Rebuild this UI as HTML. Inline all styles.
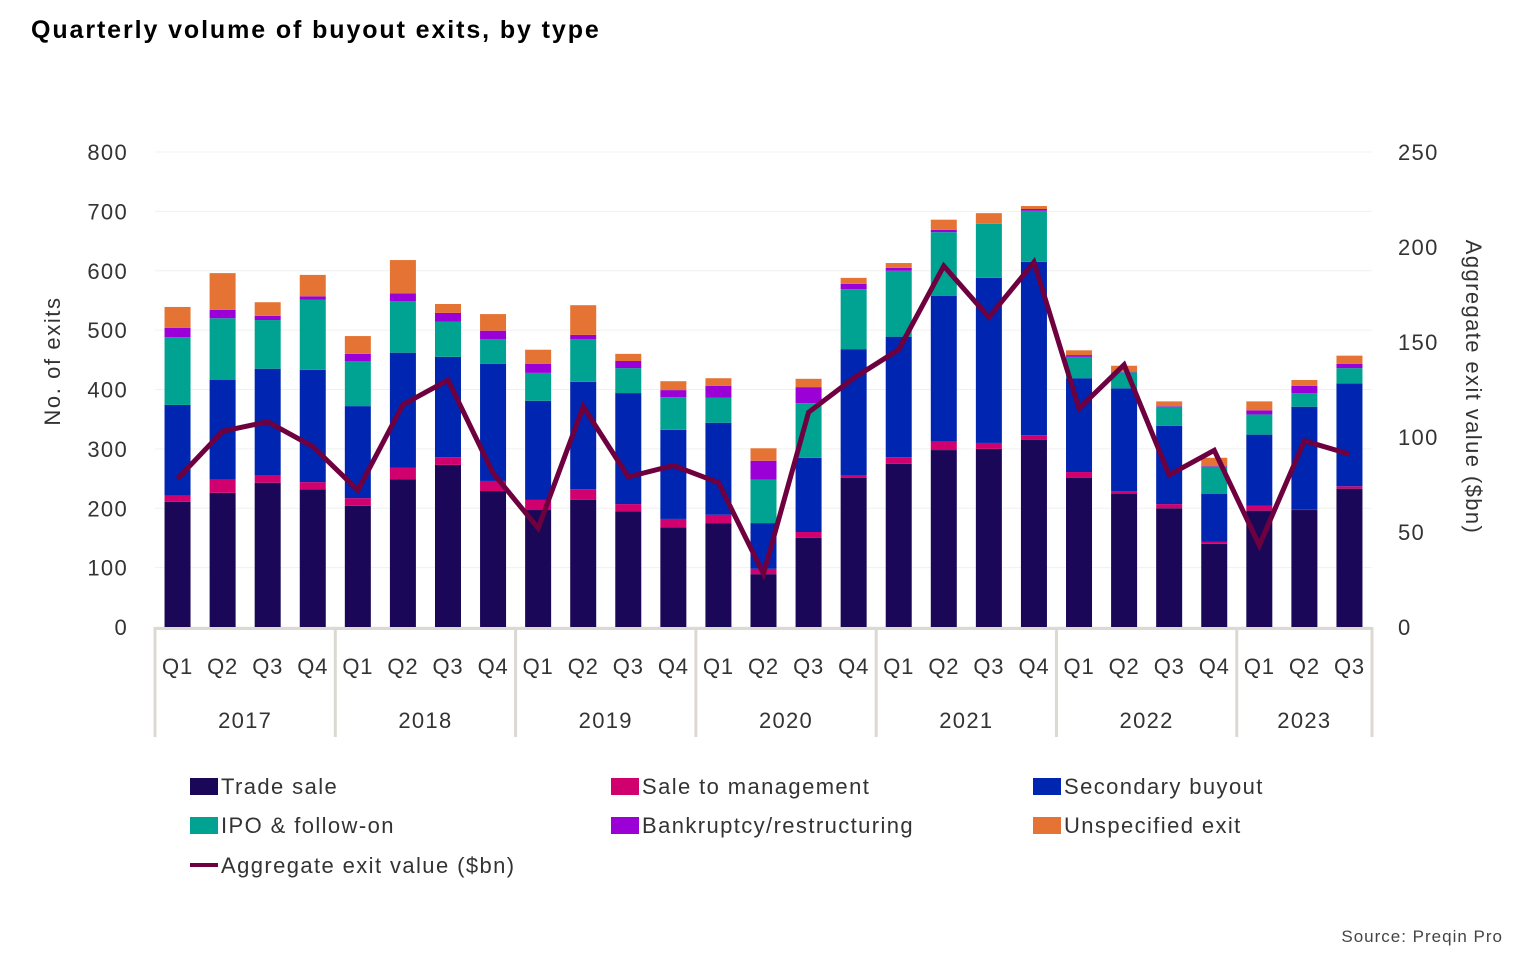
<!DOCTYPE html>
<html><head><meta charset="utf-8"><style>
body{margin:0;background:#fff;font-family:"Liberation Sans",sans-serif;}
#wrap{position:relative;width:1536px;height:978px;overflow:hidden;}
</style></head><body>
<div id="wrap">
<svg id="chart" width="1536" height="978" xmlns="http://www.w3.org/2000/svg">
<text x="31" y="38" font-size="25" font-weight="bold" fill="#000" letter-spacing="1.9" font-family="Liberation Sans, sans-serif">Quarterly volume of buyout exits, by type</text>
<text x="1503" y="942" font-size="17" fill="#444" text-anchor="end" letter-spacing="1" font-family="Liberation Sans, sans-serif">Source: Preqin Pro</text>
</svg>
</div>
<script>
const quarters=["Q1","Q2","Q3","Q4","Q1","Q2","Q3","Q4","Q1","Q2","Q3","Q4","Q1","Q2","Q3","Q4","Q1","Q2","Q3","Q4","Q1","Q2","Q3","Q4","Q1","Q2","Q3"];
const years=["2017","2018","2019","2020","2021","2022","2023"];
const yearCounts=[4,4,4,4,4,4,3];
const tradeSale=[211,226,243,232,204,249,273,229,197,214,195,168,175,89,150,251,275,298,300,315,251,224,200,140,196,197,233];
const saleToMgmt=[10,22,13,12,13,19,13,17,17,18,12,14,14,9,10,5,11,14,10,8,10,5,7,4,8,1,4];
const secondary=[153,168,179,189,155,194,169,197,167,181,187,150,155,77,125,212,203,246,278,292,158,173,132,80,120,173,173];
const ipo=[114,104,82,118,76,87,59,42,47,72,42,55,42,73,92,101,111,107,91,86,36,27,32,46,34,23,26];
const bankruptcy=[16,14,7,6,12,13,15,14,15,7,12,12,20,32,27,9,5,4,0,3,3,1,1,1,7,12,7];
const unspecified=[35,62,23,36,30,56,15,28,24,50,12,15,13,21,14,10,8,17,18,5,8,10,8,14,15,10,14];
const exitValue=[78,103,108,95,72,117,130,81,52,116,79,85,76,28,113,131,146,190,163,192,115,138,80,93,43,98,91];
const leftTicks=[0,100,200,300,400,500,600,700,800];
const rightTicks=[0,50,100,150,200,250];

const NS="http://www.w3.org/2000/svg";
const svg=document.getElementById('chart');
const X0=155,X1=1372,Y0=627,YT=152;
const band=(X1-X0)/quarters.length;
const yL=v=>Y0-(v/800)*(Y0-YT);
const yR=v=>Y0-(v/250)*(Y0-YT);
const xC=i=>X0+band*(i+0.5);
function el(tag,attrs,parent){const e=document.createElementNS(NS,tag);for(const k in attrs)e.setAttribute(k,attrs[k]);(parent||svg).appendChild(e);return e;}
const FF="Liberation Sans, sans-serif";
const LS=1.3;

leftTicks.forEach(t=>{
  const g=el('line',{x1:X0,x2:X1,y1:yL(t),y2:yL(t),stroke:'#f2f0ee','stroke-width':1});
  
  
  const tx=el('text',{x:128,y:yL(t)+8,'font-size':22,fill:'#333','text-anchor':'end','letter-spacing':LS,'font-family':FF});
  tx.textContent=t;
  
  
});
rightTicks.forEach(t=>{
  const tx=el('text',{x:1398,y:yR(t)+8,'font-size':22,fill:'#333','letter-spacing':LS,'font-family':FF});
  tx.textContent=t;
  
  
});
const yt=el('text',{transform:'translate(60,361) rotate(-90)','font-size':22,fill:'#333','text-anchor':'middle','letter-spacing':1.6,'font-family':FF});
yt.textContent='No. of exits';


const yt2=el('text',{transform:'translate(1466,387) rotate(90)','font-size':22,fill:'#333','text-anchor':'middle','letter-spacing':1.4,'font-family':FF});
yt2.textContent='Aggregate exit value ($bn)';



const series=[[tradeSale,'#1a0757','trade-sale'],[saleToMgmt,'#d1006f','sale-to-management'],[secondary,'#0025b0','secondary-buyout'],[ipo,'#00a392','ipo-follow-on'],[bankruptcy,'#9b00d6','bankruptcy'],[unspecified,'#e57334','unspecified-exit']];
const bw=26;
quarters.forEach((q,i)=>{
  let cum=0;
  series.forEach(([arr,col,nm])=>{
    const v=arr[i];const y1=yL(cum),y2=yL(cum+v);cum+=v;
    const r=el('rect',{x:xC(i)-bw/2,y:y2,width:bw,height:Math.max(0,y1-y2),fill:col});
    
    
  });
  const ql=el('text',{x:xC(i),y:674,'font-size':22,fill:'#333','text-anchor':'middle','letter-spacing':0.8,'font-family':FF});
  ql.textContent=q;
  
  
});
const base=el('line',{x1:X0,x2:X1,y1:Y0+1.5,y2:Y0+1.5,stroke:'#dcd8d3','stroke-width':3});


let start=0;
const sepAt=i=>X0+band*i;
years.forEach((yr,k)=>{
  const x=sepAt(start);
  const s=el('line',{x1:x,x2:x,y1:Y0,y2:737,stroke:'#dcd8d3','stroke-width':3});
  
  
  const mid=sepAt(start+yearCounts[k]/2);
  const t=el('text',{x:mid,y:728,'font-size':22,fill:'#333','text-anchor':'middle','letter-spacing':LS,'font-family':FF});
  t.textContent=yr;
  
  
  start+=yearCounts[k];
});
const xe=sepAt(start);
const se=el('line',{x1:xe,x2:xe,y1:Y0,y2:737,stroke:'#dcd8d3','stroke-width':3});



const pts=exitValue.map((v,i)=>xC(i)+','+yR(v)).join(' ');
const ln=el('polyline',{points:pts,fill:'none',stroke:'#6e0040','stroke-width':5,'stroke-linejoin':'miter'});



const legend=[['Trade sale','#1a0757',190,786,'rect'],['Sale to management','#d1006f',611,786,'rect'],['Secondary buyout','#0025b0',1033,786,'rect'],['IPO & follow-on','#00a392',190,825,'rect'],['Bankruptcy/restructuring','#9b00d6',611,825,'rect'],['Unspecified exit','#e57334',1033,825,'rect'],['Aggregate exit value ($bn)','#6e0040',190,865,'line']];
legend.forEach(([lab,col,x,y,type])=>{
  const g=el('g',{});
  
  
  if(type==='rect')el('rect',{x:x,y:y-8,width:28,height:17,fill:col},g);
  else el('rect',{x:x,y:y-2,width:28,height:4,fill:col},g);
  const t=el('text',{x:x+31,y:y+8,'font-size':22,fill:'#333','letter-spacing':1.4,'font-family':FF},g);
  t.textContent=lab;
});
</script>
</body></html>
